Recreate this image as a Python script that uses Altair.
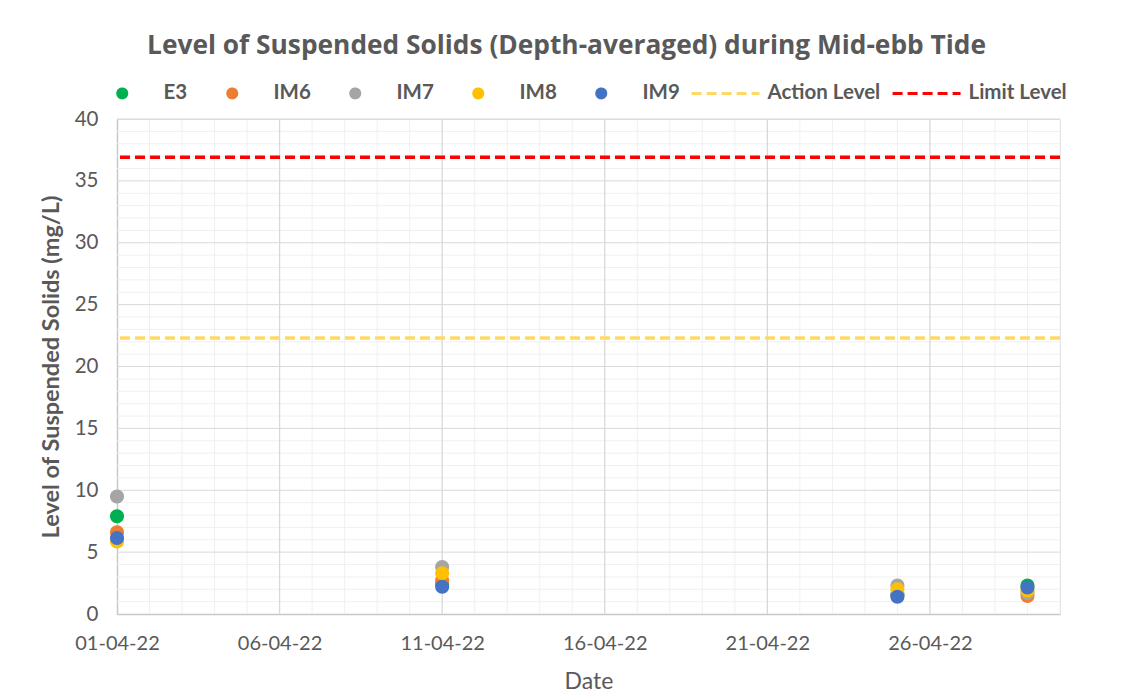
import altair as alt
import pandas as pd

# ---- data ----
dates = ["2022-04-01", "2022-04-11", "2022-04-25", "2022-04-29"]
e3 = [7.9, 2.4, 1.6, 2.3]
im6 = [6.6, 2.7, 1.5, 1.45]
im7 = [9.5, 3.8, 2.3, 1.7]
im8 = [5.85, 3.3, 2.0, 1.9]
im9 = [6.15, 2.2, 1.4, 2.15]
station_names = ["E3", "IM6", "IM7", "IM8", "IM9"]
level_names = ["Action Level", "Limit Level"]
level_values = [22.3, 36.9]
series_colors = ["#00B050", "#ED7D31", "#A5A5A5", "#FFC000", "#4472C4", "#FFD966", "#FF0000"]
major_days = [1, 6, 11, 16, 21, 26]
grid_major_days = [6, 11, 16, 21, 26]
grid_minor_days = [d for d in range(2, 31) if d not in major_days]
major_y = list(range(0, 41, 5))
grid_major_y = list(range(5, 41, 5))
grid_minor_y = [v for v in range(1, 41) if v % 5 != 0]

rows = []
for name, vals in zip(station_names, [e3, im6, im7, im8, im9]):
    for d, v in zip(dates, vals):
        rows.append({"date": d, "value": v, "series": name})
points_df = pd.DataFrame(rows)
levels_df = pd.DataFrame({"series": level_names, "value": level_values})


def day_str(d):
    return f"2022-04-{d:02d}"


vminor_df = pd.DataFrame({"date": [day_str(d) for d in grid_minor_days]})
vmajor_df = pd.DataFrame({"date": [day_str(d) for d in grid_major_days]})
hminor_df = pd.DataFrame({"value": grid_minor_y})
hmajor_df = pd.DataFrame({"value": grid_major_y})

FONT = "Lato"
TXT = "#595959"
domain = station_names + level_names
circle_path = "M-7.3,0M1,0A1,1,0,1,1,-1,0A1,1,0,1,1,1,0Z"
line_path = "M-7.7,0H7.4"

color_scale = alt.Scale(domain=domain, range=series_colors)
shape_scale = alt.Scale(domain=domain, range=[circle_path] * 5 + [line_path] * 2)
dash_scale = alt.Scale(domain=domain, range=[[1, 0]] * 5 + [[10, 5]] * 2)


def dt(d):
    return alt.DateTime(year=2022, month=4, date=d, utc=True)


x_scale = alt.Scale(type="utc", domain=[dt(1), dt(30)])
y_scale = alt.Scale(domain=[0, 40])

MINOR = "#F0F0F0"
MAJOR = "#D9D9D9"


def make_legend():
    return alt.Legend(
        orient="none", legendX=-5, legendY=-36, direction="horizontal", columns=7,
        title=None, labelFont=FONT, labelFontSize=20.5, labelFontWeight="bold", labelColor=TXT,
        symbolSize=81, symbolStrokeWidth=3, labelOffset=31, columnPadding=5,
    )


def x_axis():
    return alt.Axis(values=[dt(d) for d in major_days], format="%d-%m-%y", formatType="utc",
                    labelExpr="utcFormat(datum.value, '%d-%m-%y')", labelFlush=False,
                    labelOverlap=False,
                    grid=False, domain=True, domainColor="#C8C8C8", domainWidth=1.5,
                    ticks=False, labelFont=FONT, labelFontSize=20, labelColor=TXT,
                    labelPadding=19, title="Date", titleFont=FONT, titleFontSize=23,
                    titleFontWeight="normal", titleColor=TXT, titlePadding=17)


def y_axis():
    return alt.Axis(values=major_y, grid=False, domain=True, domainColor="#C8C8C8",
                    domainWidth=1.5, ticks=False, labelFont=FONT, labelFontSize=20.5,
                    labelColor=TXT, labelPadding=19, labelFlush=False,
                    title="Level of Suspended Solids (mg/L)", titleFont=FONT,
                    titleFontSize=23.5, titleFontWeight="bold", titleColor=TXT, titlePadding=11)


vminor = alt.Chart(vminor_df).mark_rule(color=MINOR, strokeWidth=1).encode(
    x=alt.X("date:T", scale=x_scale, axis=x_axis()))
hminor = alt.Chart(hminor_df).mark_rule(color=MINOR, strokeWidth=1).encode(
    y=alt.Y("value:Q", scale=y_scale, axis=y_axis()))
vmajor = alt.Chart(vmajor_df).mark_rule(color=MAJOR, strokeWidth=1.3).encode(
    x=alt.X("date:T", scale=x_scale, axis=x_axis()))
hmajor = alt.Chart(hmajor_df).mark_rule(color=MAJOR, strokeWidth=1).encode(
    y=alt.Y("value:Q", scale=y_scale, axis=y_axis()))

points = alt.Chart(points_df).mark_point(filled=True, size=196, opacity=1).encode(
    x=alt.X("date:T", scale=x_scale, axis=x_axis()),
    y=alt.Y("value:Q", scale=y_scale, axis=y_axis()),
    color=alt.Color("series:N", scale=color_scale, legend=make_legend()),
    shape=alt.Shape("series:N", scale=shape_scale, legend=make_legend()),
)

levels = alt.Chart(levels_df).mark_rule(strokeWidth=3.5).encode(
    y=alt.Y("value:Q", scale=y_scale, axis=y_axis()),
    color=alt.Color("series:N", scale=color_scale, legend=make_legend()),
    strokeDash=alt.StrokeDash("series:N", scale=dash_scale, legend=make_legend()),
)

chart = alt.layer(vminor, hminor, vmajor, hmajor, points, levels).properties(
    width=943, height=495,
    title=alt.TitleParams("Level of Suspended Solids (Depth-averaged) during Mid-ebb Tide",
                          font="Open Sans", fontSize=26.3, fontWeight="bold", color=TXT,
                          anchor="middle", frame="group", offset=24, dx=-22),
    autosize=alt.AutoSizeParams(type="none"),
    padding={"left": 109, "top": 111, "right": 50, "bottom": 78},
).configure_view(stroke=None).configure(background="white")

chart.save("out.html", embed_options={"renderer": "svg", "actions": False})
